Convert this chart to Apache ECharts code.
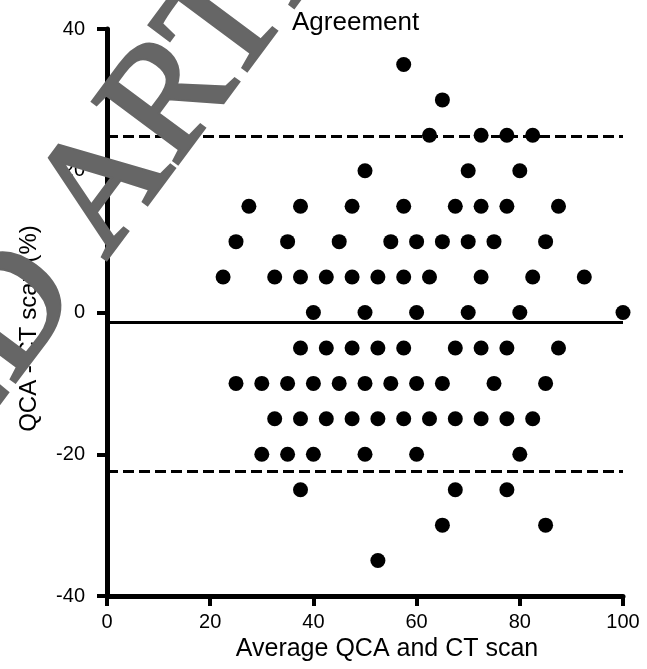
<!DOCTYPE html>
<html>
<head>
    <meta charset="utf-8">
    <title>Agreement</title>
    <script src="https://cdn.jsdelivr.net/npm/echarts@6/dist/echarts.min.js"></script>
    <style>
        body { margin: 0; background: #fff; }
        #main { width: 647px; height: 669px; }
    </style>
</head>
<body>
    <div id="main"></div>
    <script type="text/javascript">
        // difference levels (y) and the averages (x) found at each level
        var rowDiff = [35, 30, 25, 20, 15, 10, 5, 0, -5, -10, -15, -20, -25, -30, -35];
        var rowAvg = [
            [57.5],
            [65],
            [62.5, 72.5, 77.5, 82.5],
            [50, 70, 80],
            [27.5, 37.5, 47.5, 57.5, 67.5, 72.5, 77.5, 87.5],
            [25, 35, 45, 55, 60, 65, 70, 75, 85],
            [22.5, 32.5, 37.5, 42.5, 47.5, 52.5, 57.5, 62.5, 72.5, 82.5, 92.5],
            [40, 50, 60, 70, 80, 100],
            [37.5, 42.5, 47.5, 52.5, 57.5, 67.5, 72.5, 77.5, 87.5],
            [25, 30, 35, 40, 45, 50, 55, 60, 65, 75, 85],
            [32.5, 37.5, 42.5, 47.5, 52.5, 57.5, 62.5, 67.5, 72.5, 77.5, 82.5],
            [30, 35, 40, 50, 60, 80],
            [37.5, 67.5, 77.5],
            [65, 85],
            [52.5]
        ];
        var meanBias = -1.4;
        var limitsOfAgreement = [24.9, -22.4];
        var xTicks = [0, 20, 40, 60, 80, 100];
        var yTicks = [-40, -20, 0, 20, 40];

        var points = [];
        for (var i = 0; i < rowDiff.length; i++) {
            for (var j = 0; j < rowAvg[i].length; j++) {
                points.push([rowAvg[i][j], rowDiff[i]]);
            }
        }

        var myChart = echarts.init(document.getElementById('main'));
        var font = 'Liberation Sans, Arial, sans-serif';
        // watermark runs diagonally across the upper left
        var wmAngle = 53.4 * Math.PI / 180;
        var wmStyle = {
            fontFamily: 'Liberation Serif, serif',
            fontSize: 160,
            fill: '#666',
            stroke: '#666',
            lineWidth: 4,
            verticalAlign: 'bottom'
        };

        myChart.setOption({
            animation: false,
            title: {
                text: 'Agreement',
                left: 292,
                top: 10,
                padding: 0,
                textStyle: { fontFamily: font, fontSize: 26, fontWeight: 'normal', color: '#000' }
            },
            grid: { left: 107, right: 24, top: 29, bottom: 73 },
            xAxis: {
                type: 'value',
                min: xTicks[0],
                max: xTicks[xTicks.length - 1],
                interval: 20,
                name: 'Average QCA and CT scan',
                nameLocation: 'middle',
                nameGap: 32,
                nameTextStyle: { fontFamily: font, fontSize: 25, color: '#000', padding: [0, 0, 0, 44] },
                axisLine: { onZero: false, lineStyle: { color: '#000', width: 5 } },
                axisTick: { length: 10, lineStyle: { color: '#000', width: 4 } },
                axisLabel: { margin: 16, fontFamily: font, fontSize: 20, color: '#000' },
                splitLine: { show: false }
            },
            yAxis: {
                type: 'value',
                min: yTicks[0],
                max: yTicks[yTicks.length - 1],
                interval: 20,
                name: 'QCA - CT scan (%)',
                nameLocation: 'middle',
                nameGap: 66,
                nameTextStyle: { fontFamily: font, fontSize: 24, color: '#000', padding: [0, 32, 0, 0] },
                axisLine: { onZero: false, lineStyle: { color: '#000', width: 5 } },
                axisTick: { length: 10, lineStyle: { color: '#000', width: 4 } },
                axisLabel: { margin: 22, fontFamily: font, fontSize: 20, color: '#000' },
                splitLine: { show: false }
            },
            series: [{
                type: 'scatter',
                data: points,
                symbol: 'circle',
                symbolSize: 15,
                itemStyle: { color: '#000', opacity: 1 },
                markLine: {
                    silent: true,
                    symbol: 'none',
                    label: { show: false },
                    data: [
                        { yAxis: meanBias, lineStyle: { type: 'solid', width: 3, color: '#000' } },
                        { yAxis: limitsOfAgreement[0], lineStyle: { type: [11, 5], width: 3, color: '#000' } },
                        { yAxis: limitsOfAgreement[1], lineStyle: { type: [11, 5], width: 3, color: '#000' } }
                    ]
                }
            }],
            graphic: [
                {
                    type: 'text',
                    x: 136, y: 283,
                    rotation: wmAngle,
                    z: 100,
                    style: Object.assign({ text: 'ARTICLE', align: 'left' }, wmStyle)
                },
                {
                    type: 'text',
                    x: 112, y: 315,
                    rotation: wmAngle,
                    z: 100,
                    style: Object.assign({ text: 'ACCEPTED', align: 'right' }, wmStyle)
                }
            ]
        });
    </script>
</body>
</html>
